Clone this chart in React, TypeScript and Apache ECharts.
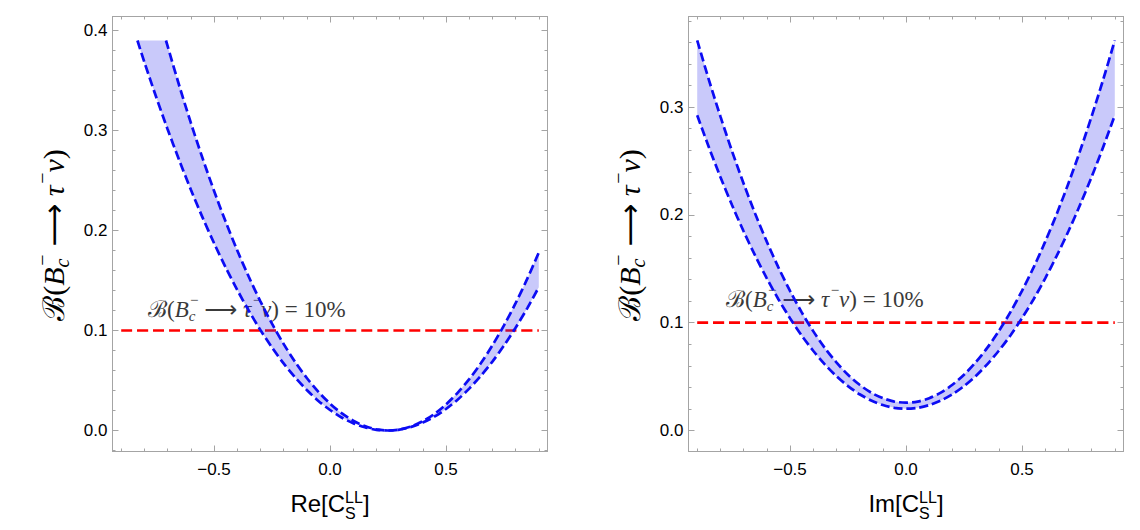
import React, { useEffect, useRef } from 'react';
import * as echarts from 'echarts';

// ---- data ----
// Left panel: B(Bc -> tau nu) vs Re[C_S^LL]
const reUpperX = [-0.707, -0.65, -0.6, -0.55, -0.5, -0.45, -0.4, -0.35, -0.3, -0.25, -0.2, -0.15, -0.1, -0.05, 0, 0.05, 0.1, 0.15, 0.2, 0.25, 0.3, 0.35, 0.4, 0.45, 0.5, 0.55, 0.6, 0.65, 0.7, 0.75, 0.8, 0.85, 0.9];
const reUpperY = [0.39, 0.345, 0.3078, 0.2727, 0.2398, 0.2089, 0.1802, 0.1537, 0.1292, 0.1068, 0.0866, 0.0685, 0.0525, 0.0387, 0.0269, 0.0173, 0.0098, 0.0044, 0.0011, 0.0, 0.001, 0.0041, 0.0093, 0.0166, 0.0261, 0.0377, 0.0513, 0.0672, 0.0851, 0.1052, 0.1273, 0.1516, 0.178];
const reLowerX = [-0.83, -0.8, -0.75, -0.7, -0.65, -0.6, -0.55, -0.5, -0.45, -0.4, -0.35, -0.3, -0.25, -0.2, -0.15, -0.1, -0.05, 0, 0.05, 0.1, 0.15, 0.2, 0.25, 0.3, 0.35, 0.4, 0.45, 0.5, 0.55, 0.6, 0.65, 0.7, 0.75, 0.8, 0.85, 0.9];
const reLowerY = [0.39, 0.3683, 0.334, 0.3013, 0.2704, 0.241, 0.2134, 0.1875, 0.1632, 0.1407, 0.1198, 0.1005, 0.083, 0.0671, 0.053, 0.0405, 0.0296, 0.0205, 0.013, 0.0073, 0.0032, 0.0007, 0.0, 0.0009, 0.0036, 0.0079, 0.0138, 0.0215, 0.0308, 0.0419, 0.0546, 0.0689, 0.085, 0.1028, 0.1222, 0.1433];

// Right panel: B(Bc -> tau nu) vs Im[C_S^LL]
const imX = [-0.9, -0.85, -0.8, -0.75, -0.7, -0.65, -0.6, -0.55, -0.5, -0.45, -0.4, -0.35, -0.3, -0.25, -0.2, -0.15, -0.1, -0.05, 0, 0.05, 0.1, 0.15, 0.2, 0.25, 0.3, 0.35, 0.4, 0.45, 0.5, 0.55, 0.6, 0.65, 0.7, 0.75, 0.8, 0.85, 0.9];
const imUpperY = [0.362, 0.3256, 0.2914, 0.2592, 0.2292, 0.2011, 0.1752, 0.1513, 0.1296, 0.1098, 0.0922, 0.0766, 0.0632, 0.0517, 0.0424, 0.0351, 0.03, 0.0268, 0.0258, 0.0268, 0.03, 0.0351, 0.0424, 0.0517, 0.0632, 0.0766, 0.0922, 0.1098, 0.1296, 0.1513, 0.1752, 0.2011, 0.2292, 0.2592, 0.2914, 0.3256, 0.362];
const imLowerY = [0.2924, 0.263, 0.2352, 0.2092, 0.1848, 0.1622, 0.1412, 0.1218, 0.1042, 0.0882, 0.074, 0.0614, 0.0504, 0.0412, 0.0336, 0.0278, 0.0236, 0.021, 0.0202, 0.021, 0.0236, 0.0278, 0.0336, 0.0412, 0.0504, 0.0614, 0.074, 0.0882, 0.1042, 0.1218, 0.1412, 0.1622, 0.1848, 0.2092, 0.2352, 0.263, 0.2924];

// 10% reference line
const refX = [-0.9, 0.9];
const refY = 0.1;

// ---- styles ----
const FRAME = '#a4a4a4';
const BLUE = '#0c0cf4';
const RED = '#ff0000';
const BAND = 'rgba(40, 40, 235, 0.25)';
const SERIF = "'Liberation Serif', 'DejaVu Serif', serif";
const ARROWF = "'DejaVu Sans', 'DejaVu Serif', serif";
const SANS = "'Liberation Sans', Arial, sans-serif";

type Piece = { t: string; it?: boolean; fam?: string; sub?: string; subIt?: boolean; sup?: string };

function mathText(
  pieces: Piece[],
  o: { family: string; size: number; ss: number; color: string; subDy: number; supDy: number; center: boolean }
) {
  const ctx = document.createElement('canvas').getContext('2d') as CanvasRenderingContext2D;
  const ss = o.ss;
  const measure = (t: string, sz: number, it?: boolean, fam?: string) => {
    ctx.font = `${it ? 'italic ' : ''}${sz}px ${fam || o.family}`;
    return ctx.measureText(t).width;
  };
  const mk = (t: string, x: number, y: number, sz: number, it?: boolean, fam?: string) => ({
    type: 'text',
    x,
    y,
    z: 0,
    style: {
      text: t,
      fontSize: sz,
      fontFamily: fam || o.family,
      fontStyle: it ? 'italic' : 'normal',
      fill: o.color,
      textAlign: 'left',
      textVerticalAlign: 'middle',
    },
  });
  const out: any[] = [];
  let x = 0;
  for (const p of pieces) {
    out.push(mk(p.t, x, 0, o.size, p.it, p.fam));
    x += measure(p.t, o.size, p.it, p.fam);
    let w = 0;
    if (p.sub) {
      out.push(mk(p.sub, x, o.subDy * o.size, ss, p.subIt));
      w = Math.max(w, measure(p.sub, ss, p.subIt));
    }
    if (p.sup) {
      const k = p.it ? o.size * 0.06 : 0;
      out.push(mk(p.sup, x + k, -o.supDy * o.size, ss, false));
      w = Math.max(w, measure(p.sup, ss, false) + k);
    }
    x += w;
  }
  if (o.center) out.forEach((e) => (e.x -= x / 2));
  return out;
}

const brPieces: Piece[] = [
  { t: '\u212C' },
  { t: '(' },
  { t: 'B', it: true, sub: 'c', subIt: true, sup: '\u2212' },
  { t: ' ' },
  { t: '\u27F6', fam: ARROWF },
  { t: ' ' },
  { t: '\u03C4', it: true, sup: '\u2212' },
  { t: '\u03BD', it: true },
  { t: ')' },
];
const notePieces: Piece[] = [...brPieces, { t: ' = 10%' }];

const fmt = (v: number) => {
  const r = Math.round(v * 10) / 10;
  if (Math.abs(v - r) > 1e-6) return '';
  const s = Math.abs(r).toFixed(1);
  return r < 0 ? '\u2212' + s : s;
};

function axesFor(gridIndex: number, ymin: number, ymax: number) {
  const common = {
    type: 'value',
    gridIndex,
    splitLine: { show: false },
    axisLine: { show: true, onZero: false, lineStyle: { color: FRAME, width: 1 } },
    axisTick: { show: true, inside: true, length: 6, lineStyle: { color: FRAME, width: 1 } },
    minorTick: { show: true, splitNumber: 5, length: 3, lineStyle: { color: FRAME, width: 1 } },
  };
  const lbl = {
    show: true,
    formatter: fmt,
    fontSize: 17,
    fontFamily: SANS,
    color: '#000',
    showMinLabel: false,
    showMaxLabel: false,
  };
  const xa = { ...common, min: -0.9375, max: 0.9375, minInterval: 0.5, maxInterval: 0.5 };
  const ya = { ...common, min: ymin, max: ymax, minInterval: 0.1, maxInterval: 0.1 };
  return {
    x: [
      { ...xa, position: 'bottom', axisLabel: { ...lbl, margin: 9 } },
      { ...xa, position: 'top', axisLabel: { show: false } },
    ],
    y: [
      { ...ya, position: 'left', axisLabel: { ...lbl, margin: 5 } },
      { ...ya, position: 'right', axisLabel: { show: false } },
    ],
  };
}

function bandSeries(upper: number[][], lower: number[][], xi: number, yi: number) {
  const pts = [...upper, ...lower.slice().reverse()];
  return {
    type: 'custom',
    xAxisIndex: xi,
    yAxisIndex: yi,
    data: [[0, 0]],
    silent: true,
    z: 3,
    renderItem: (_p: any, api: any) => ({
      type: 'polygon',
      shape: { points: pts.map((p) => api.coord(p)) },
      style: { fill: BAND },
    }),
  };
}

function dashed(data: number[][], xi: number, yi: number, color: string, dash: number[], z: number) {
  return {
    type: 'line',
    xAxisIndex: xi,
    yAxisIndex: yi,
    data,
    symbol: 'none',
    showSymbol: false,
    smooth: 0.3,
    silent: true,
    z,
    lineStyle: { color, width: 2.7, type: dash },
  };
}

export default function App() {
  const ref = useRef<HTMLDivElement>(null);
  useEffect(() => {
    if (!ref.current) return;
    const chart = echarts.init(ref.current, undefined, { renderer: 'svg' });
    const a1 = axesFor(0, -0.021, 0.414);
    const a2 = axesFor(1, -0.0195, 0.3841);
    const reUp = reUpperX.map((x, i) => [x, reUpperY[i]]);
    const reLo = reLowerX.map((x, i) => [x, reLowerY[i]]);
    const imUp = imX.map((x, i) => [x, imUpperY[i]]);
    const imLo = imX.map((x, i) => [x, imLowerY[i]]);
    const ref10 = refX.map((x) => [x, refY]);

    const titleOpts = { family: SERIF, size: 30, ss: 20, color: '#000', subDy: 0.3, supDy: 0.38, center: true };
    const noteOpts = { family: SERIF, size: 23, ss: 15, color: '#3a3a3a', subDy: 0.3, supDy: 0.38, center: false };
    const xtOpts = { family: SANS, size: 24, ss: 16, color: '#000', subDy: 0.45, supDy: 0.22, center: true };
    const xPieces = (s: string): Piece[] => [{ t: s + '[C', sub: 'S', sup: 'LL' }, { t: ']' }];

    chart.setOption({
      animation: false,
      backgroundColor: '#fff',
      grid: [
        { left: 112.5, top: 16.5, width: 435, height: 435 },
        { left: 688.5, top: 16.5, width: 435, height: 435 },
      ],
      xAxis: [...a1.x, ...a2.x],
      yAxis: [...a1.y, ...a2.y],
      series: [
        dashed(ref10, 0, 0, RED, [11, 5], 2),
        bandSeries(reUp, reLo, 0, 0),
        dashed(reUp, 0, 0, BLUE, [9, 4], 4),
        dashed(reLo, 0, 0, BLUE, [9, 4], 4),
        dashed(ref10, 2, 2, RED, [11, 5], 2),
        bandSeries(imUp, imLo, 2, 2),
        dashed(imUp, 2, 2, BLUE, [9, 4], 4),
        dashed(imLo, 2, 2, BLUE, [9, 4], 4),
      ],
      graphic: {
        elements: [
          { type: 'group', x: 53, y: 235, rotation: Math.PI / 2, children: mathText(brPieces, titleOpts) },
          { type: 'group', x: 629, y: 235, rotation: Math.PI / 2, children: mathText(brPieces, titleOpts) },
          { type: 'group', x: 148, y: 309, children: mathText(notePieces, noteOpts) },
          { type: 'group', x: 726, y: 299, children: mathText(notePieces, noteOpts) },
          { type: 'group', x: 330, y: 503, children: mathText(xPieces('Re'), xtOpts) },
          { type: 'group', x: 906, y: 503, children: mathText(xPieces('Im'), xtOpts) },
        ],
      },
    });
    return () => chart.dispose();
  }, []);
  return <div ref={ref} style={{ position: 'absolute', left: 0, top: 0, width: 1140, height: 530 }} />;
}
